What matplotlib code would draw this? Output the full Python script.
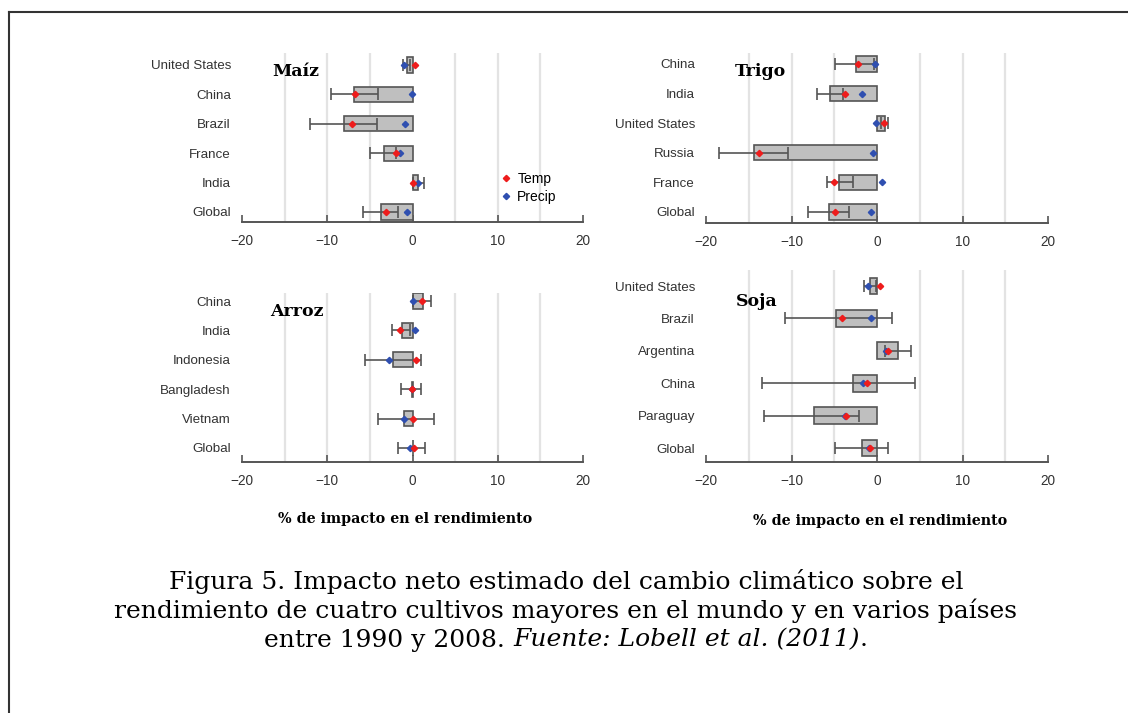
import matplotlib
matplotlib.use("Agg")
import matplotlib.pyplot as plt
from matplotlib.lines import Line2D

# ---------------- data (rows listed top to bottom) ----------------
maiz_countries = ["United States", "China", "Brazil", "France", "India", "Global"]
maiz_net = [-0.7, -6.9, -8.0, -3.4, 0.7, -3.75]
maiz_lo = [-1.1, -9.6, -12.0, -5.0, 0.0, -5.8]
maiz_hi = [-0.3, -4.1, -4.2, -1.9, 1.3, -1.75]
maiz_temp = [0.35, -6.8, -7.1, -1.9, 0.0, -3.1]
maiz_precip = [-1.0, -0.1, -0.9, -1.5, 0.6, -0.7]

trigo_countries = ["China", "India", "United States", "Russia", "France", "Global"]
trigo_net = [-2.45, -5.5, 0.9, -14.4, -4.5, -5.6]
trigo_lo = [-4.95, -7.0, 0.5, -18.5, -5.9, -8.1]
trigo_hi = [-0.3, -4.0, 1.25, -10.4, -2.8, -3.3]
trigo_temp = [-2.25, -3.7, 0.8, -13.8, -5.0, -4.9]
trigo_precip = [-0.2, -1.8, -0.1, -0.5, 0.6, -0.7]

arroz_countries = ["China", "India", "Indonesia", "Bangladesh", "Vietnam", "Global"]
arroz_net = [1.2, -1.2, -2.3, -0.1, -1.0, 0.0]
arroz_lo = [0.1, -2.4, -5.6, -1.35, -4.0, -1.65]
arroz_hi = [2.15, -0.35, 1.05, 0.95, 2.5, 1.5]
arroz_temp = [1.15, -1.5, 0.45, -0.05, 0.0, 0.15]
arroz_precip = [0.0, 0.35, -2.7, -0.1, -1.0, -0.25]

soja_countries = ["United States", "Brazil", "Argentina", "China", "Paraguay", "Global"]
soja_net = [-0.85, -4.75, 2.5, -2.8, -7.4, -1.75]
soja_lo = [-1.55, -10.75, 0.9, -13.45, -13.2, -4.9]
soja_hi = [-0.1, 1.75, 3.95, 4.4, -2.15, 1.25]
soja_temp = [0.3, -4.1, 1.3, -1.2, -3.6, -0.85]
soja_precip = [-1.1, -0.7, 1.1, -1.65, -3.75, -0.95]

crop_titles = ["Maíz", "Trigo", "Arroz", "Soja"]
xticks = [-20, -10, 0, 10, 20]
gridx = [-15, -10, -5, 5, 10, 15]
xlabel = "% de impacto en el rendimiento"
legend_labels = ["Temp", "Precip"]
caption_lines = [
    "Figura 5. Impacto neto estimado del cambio climático sobre el",
    "rendimiento de cuatro cultivos mayores en el mundo y en varios países",
]
caption_last_plain = "entre 1990 y 2008. "
caption_last_italic = "Fuente: Lobell et al. (2011)"
caption_last_end = "."

# ---------------- figure ----------------
W, H = 1128, 713
fig = plt.figure(figsize=(W / 100, H / 100), dpi=100)

def fx(px):
    return px / W

def fy(py):
    return 1 - py / H

# (left, right, top, bottom, first row centre, last row centre) in pixels
layouts = [
    (242, 583, 53, 222, 65, 212),
    (706, 1048, 53, 223, 64, 212),
    (242, 583, 293, 462, 301, 448),
    (706, 1048, 270, 462, 286, 448),
]
title_pos = [(272, 72), (735, 72), (270, 312), (736, 302)]

panels = [
    (maiz_countries, maiz_net, maiz_lo, maiz_hi, maiz_temp, maiz_precip),
    (trigo_countries, trigo_net, trigo_lo, trigo_hi, trigo_temp, trigo_precip),
    (arroz_countries, arroz_net, arroz_lo, arroz_hi, arroz_temp, arroz_precip),
    (soja_countries, soja_net, soja_lo, soja_hi, soja_temp, soja_precip),
]

RED = "#ee1c1c"
BLUE = "#2f4fb0"
BARFACE = "#bfbfbf"
DARK = "#555555"
TXT = "#333333"
MS = 3.2

for k, (panel, lay) in enumerate(zip(panels, layouts)):
    countries, net, lo, hi, temp, precip = panel
    l, r, t, b, r0, r5 = lay
    n = len(countries)
    ax = fig.add_axes([fx(l), fy(b), (r - l) / W, (b - t) / H])
    sp = (r5 - r0) / (n - 1)
    ax.set_ylim(-(b - r5) / sp, (n - 1) + (r0 - t) / sp)
    ax.set_xlim(-20, 20)
    ys = [n - 1 - i for i in range(n)]
    for g in gridx:
        ax.axvline(g, color="#e3e3e3", lw=1.6, zorder=0)
    ax.barh(ys, net, height=0.52, color=BARFACE, edgecolor=DARK, linewidth=1.2, zorder=2)
    xerr = [[net[i] - lo[i] for i in range(n)], [hi[i] - net[i] for i in range(n)]]
    ax.errorbar(net, ys, xerr=xerr, fmt="none", ecolor=DARK, elinewidth=1.2,
                capsize=4.5, capthick=1.2, zorder=3)
    ax.plot(precip, ys, linestyle="none", marker="D", markersize=MS, color=BLUE, zorder=4)
    ax.plot(temp, ys, linestyle="none", marker="D", markersize=MS, color=RED, zorder=5)

    ax.set_yticks(ys)
    ax.set_yticklabels(countries, fontsize=9.6, color=TXT, family="Liberation Sans")
    ax.tick_params(axis="y", length=0, pad=8)
    ax.set_xticks(xticks)
    ax.set_xticklabels([f"{v}".replace("-", "\u2212") for v in xticks],
                       fontsize=9.8, color=TXT, family="Liberation Sans")
    ax.tick_params(axis="x", direction="in", length=5, width=1.2, color=DARK, pad=8.5)
    for s in ["top", "right", "left"]:
        ax.spines[s].set_visible(False)
    ax.spines["bottom"].set_color(DARK)
    ax.spines["bottom"].set_linewidth(1.4)
    ax.set_facecolor("none")

    tx, ty = title_pos[k]
    fig.text(fx(tx), fy(ty), crop_titles[k], fontsize=12.5, fontweight="heavy",
             family="DejaVu Serif", va="center", ha="left", color="black")

    if k == 0:
        handles = [
            Line2D([], [], linestyle="none", marker="D", markersize=MS, color=RED),
            Line2D([], [], linestyle="none", marker="D", markersize=MS, color=BLUE),
        ]
        ax.legend(handles, legend_labels, loc="upper left",
                  bbox_to_anchor=((502 - l) / (r - l), (b - 172) / (b - t)),
                  frameon=False, handlelength=0.6, handletextpad=0.5,
                  borderpad=0, borderaxespad=0, labelspacing=0.3,
                  prop={"family": "Liberation Sans", "size": 10})

# x labels
fig.text(fx(405), fy(519), xlabel, fontsize=10.3, fontweight="bold",
         family="DejaVu Serif", ha="center", va="center", color="black")
fig.text(fx(880), fy(521), xlabel, fontsize=10.3, fontweight="bold",
         family="DejaVu Serif", ha="center", va="center", color="black")

# caption
cap_fs = 18
fig.text(fx(566), fy(582), caption_lines[0], fontsize=cap_fs, family="DejaVu Serif",
         ha="center", va="center", color="black")
fig.text(fx(566), fy(611), caption_lines[1], fontsize=cap_fs, family="DejaVu Serif",
         ha="center", va="center", color="black")
# third line built from pieces, centred as a whole
renderer = fig.canvas.get_renderer()
pieces = [(caption_last_plain, "normal"), (caption_last_italic, "italic"), (caption_last_end, "normal")]
arts = []
for txt, style in pieces:
    a = fig.text(0, fy(640), txt, fontsize=cap_fs, family="DejaVu Serif", style=style,
                 ha="left", va="center", color="black")
    arts.append(a)
widths = [a.get_window_extent(renderer).width for a in arts]
total = sum(widths)
x0 = 566 - total / 2
for a, w in zip(arts, widths):
    a.set_x(fx(x0))
    x0 += w

# frame lines (left and top)
fig.add_artist(Line2D([fx(9), fx(9)], [fy(12), 0], color="#333333", lw=1.5))
fig.add_artist(Line2D([fx(9), 1], [fy(12), fy(12)], color="#333333", lw=1.5))

fig.savefig("out.png", dpi=100, facecolor="white")
